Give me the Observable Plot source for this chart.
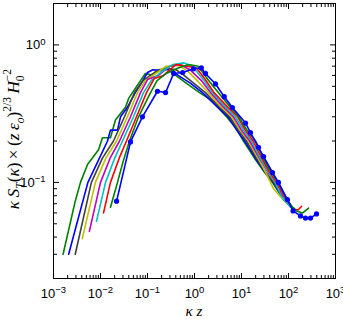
<!DOCTYPE html>
<html><head><meta charset="utf-8">
<script src="https://cdn.jsdelivr.net/npm/d3@7"></script>
<script src="https://cdn.jsdelivr.net/npm/@observablehq/plot@0.6"></script>
<style>html,body{margin:0;padding:0;background:#fff;overflow:hidden}</style>
</head><body><div id="chart"></div>
<script>
// Series values [kappa z, normalized spectrum]
const s1 = [[0.022,0.073],[0.0435,0.197],[0.078,0.30],[0.163,0.46],[0.242,0.45],[0.36,0.62],[0.56,0.63],[0.95,0.67],[1.4,0.68],[1.71,0.62],[2.8,0.52],[4.3,0.42],[6.4,0.35],[12.2,0.27],[15.5,0.23],[23,0.18],[29.5,0.154],[45.7,0.118],[61,0.10],[95,0.075],[125,0.062],[180,0.057],[230,0.055],[294,0.055],[394,0.059]];
const s2 = [[0.0163,0.066],[0.023,0.1],[0.03,0.14],[0.0414,0.2],[0.0644,0.3],[0.116,0.45],[0.16,0.55],[0.25,0.62],[0.45,0.68],[0.75,0.72],[1.2,0.7],[2.0,0.55],[3.2,0.45],[5.5,0.36],[8.8,0.3],[13,0.24],[20,0.2],[29,0.15],[42,0.12],[60,0.1],[93,0.075],[122,0.066],[148,0.062],[200,0.06],[267,0.065]];
const s3 = [[0.0116,0.06],[0.0163,0.1],[0.025,0.15],[0.0357,0.2],[0.0583,0.3],[0.0953,0.45],[0.14,0.57],[0.22,0.6],[0.4,0.72],[0.7,0.7],[1.1,0.68],[1.7,0.56],[2.6,0.45],[4.8,0.36],[8.3,0.3],[12,0.24],[17.7,0.2],[27,0.15],[39,0.12],[55.6,0.1],[91,0.075],[128,0.064],[160,0.063],[190,0.067]];
const s4 = [[0.0082,0.052],[0.0128,0.1],[0.02,0.15],[0.0294,0.2],[0.0503,0.3],[0.0822,0.45],[0.12,0.55],[0.2,0.64],[0.35,0.72],[0.6,0.74],[0.9,0.7],[1.6,0.55],[2.4,0.45],[4.3,0.36],[7.4,0.3],[11,0.24],[16.3,0.2],[25,0.15],[37,0.12],[52,0.1],[70,0.08],[90,0.072],[110,0.066],[130,0.065]];
const s5 = [[0.0058,0.044],[0.01,0.1],[0.016,0.15],[0.0254,0.2],[0.0435,0.3],[0.071,0.45],[0.1,0.56],[0.17,0.6],[0.3,0.7],[0.5,0.72],[0.8,0.66],[1.4,0.55],[2.19,0.45],[3.9,0.36],[6.76,0.3],[10,0.24],[15,0.2],[24,0.15],[36,0.12],[52,0.1],[80,0.077],[110,0.067]];
const s6 = [[0.0041,0.039],[0.0078,0.1],[0.013,0.15],[0.0219,0.2],[0.0375,0.3],[0.0612,0.45],[0.09,0.55],[0.16,0.63],[0.25,0.7],[0.45,0.71],[0.7,0.65],[1.2,0.54],[1.97,0.45],[3.5,0.36],[6.2,0.3],[9.3,0.24],[14.1,0.2],[22.5,0.15],[34,0.115],[48,0.09],[65,0.08],[85,0.073],[110,0.067]];
const s7 = [[0.0029,0.03],[0.0064,0.1],[0.011,0.15],[0.0189,0.2],[0.0324,0.3],[0.0528,0.45],[0.08,0.55],[0.15,0.64],[0.25,0.68],[0.4,0.66],[0.6,0.6],[1.0,0.52],[1.71,0.45],[3.2,0.36],[5.6,0.3],[8.6,0.24],[12.8,0.2],[20.8,0.15],[32,0.12],[48,0.1],[82,0.075],[110,0.067]];
const s8 = [[0.0021,0.03],[0.0037,0.062],[0.0054,0.1],[0.01,0.156],[0.0141,0.2],[0.0163,0.24],[0.023,0.24],[0.0267,0.3],[0.037,0.35],[0.055,0.45],[0.075,0.53],[0.1,0.63],[0.13,0.66],[0.2,0.65],[0.3,0.67],[0.45,0.6],[0.8,0.53],[1.48,0.45],[2.9,0.36],[5.2,0.3],[7.9,0.24],[11.7,0.2],[19.8,0.15],[31,0.12],[47,0.1],[80,0.075],[110,0.067]];
const s9 = [[0.0016,0.03],[0.0029,0.073],[0.00375,0.1],[0.0053,0.135],[0.0091,0.173],[0.011,0.211],[0.0163,0.211],[0.0208,0.284],[0.034,0.352],[0.04,0.41],[0.09,0.62],[0.13,0.6],[0.17,0.66],[0.25,0.67],[0.35,0.62],[0.7,0.52],[1.28,0.45],[2.2,0.4],[4.8,0.3],[7.5,0.25],[11,0.2],[18.9,0.15],[30,0.12],[45.7,0.1],[78,0.075],[110,0.067]];

const seriesNames = ["s1","s2","s3","s4","s5","s6","s7","s8","s9"];
const seriesData = [s1,s2,s3,s4,s5,s6,s7,s8,s9];
const seriesColors = ["#0000ff","#008000","#ff0000","#00bfbf","#bf00bf","#bfbf00","#404040","#0000ff","#008000"];

const xMajor = [0.001,0.01,0.1,1,10,100,1000];
const yMajor = [0.1,1];
const mantissas = [2,3,4,5,6,7,8,9];
const xMinor = [];
for (const d of [0.001,0.01,0.1,1,10,100]) for (const m of mantissas) xMinor.push(+(d*m).toPrecision(3));
const yMinor = [];
for (const d of [0.01,0.1]) for (const m of mantissas) if (d*m >= 0.02) yMinor.push(+(d*m).toPrecision(3));
yMinor.push(2);

const xTitle = "κ z";

// rows: draw from last series to first so the dotted blue one sits on top
const rows = [];
for (let k = seriesData.length - 1; k >= 0; k--) {
  for (const [x, y] of seriesData[k]) rows.push({s: seriesNames[k], color: seriesColors[k], x, y});
}
const dotRows = s1.map(([x, y]) => ({x, y}));

const expFmt = d => String(Math.round(Math.log10(d)));
const serif = "'Liberation Serif','DejaVu Serif',serif";

const plot = Plot.plot({
  width: 343, height: 323,
  marginLeft: 53, marginRight: 8, marginTop: 3, marginBottom: 45,
  x: {type: "log", domain: [1e-3, 1e3], label: null},
  y: {type: "log", domain: [0.02, 2], label: null},
  style: {fontFamily: "'Liberation Sans', Arial, sans-serif", fontSize: "13px", background: "white", color: "black"},
  marks: [
    Plot.line(rows, {x: "x", y: "y", z: "s", stroke: "color", strokeWidth: 1.6, curve: "linear"}),
    Plot.dot(dotRows, {x: "x", y: "y", r: 2.6, fill: "#0000ff", stroke: "none"}),
    Plot.frame({stroke: "black", strokeWidth: 1}),
    // inward ticks on all four sides
    Plot.axisX(xMajor, {anchor: "bottom", tickSize: -5, fill: "none", label: null}),
    Plot.axisX(xMinor, {anchor: "bottom", tickSize: -3, fill: "none", label: null}),
    Plot.axisX(xMajor, {anchor: "top", tickSize: -5, fill: "none", label: null}),
    Plot.axisX(xMinor, {anchor: "top", tickSize: -3, fill: "none", label: null}),
    Plot.axisY(yMajor, {anchor: "left", tickSize: -6, fill: "none", label: null}),
    Plot.axisY(yMinor, {anchor: "left", tickSize: -4, fill: "none", label: null}),
    Plot.axisY(yMajor, {anchor: "right", tickSize: -6, fill: "none", label: null}),
    Plot.axisY(yMinor, {anchor: "right", tickSize: -4, fill: "none", label: null}),
    // tick labels
    Plot.axisX(xMajor, {anchor: "bottom", tickSize: 0, tickPadding: 10, tickFormat: expFmt, label: null}),
    Plot.axisY(yMajor, {anchor: "left", tickSize: 0, tickPadding: 8, tickFormat: expFmt, label: null})
  ]
});

document.getElementById("chart").appendChild(plot);
const svg = d3.select(plot);

// turn exponent labels into 10 with superscript
svg.selectAll("g[aria-label$='tick label'] text").each(function() {
  const e = this.textContent.trim().replace("-", "\u2212");
  const t = d3.select(this);
  t.text("10");
  t.append("tspan").attr("dy", "-0.45em").attr("font-size", "9.5px").text(e);
});

// x title, centred on the frame using the x scale
const sx = plot.scale("x");
const xMid = (sx.apply(1e-3) + sx.apply(1e3)) / 2;
svg.append("text")
  .attr("x", xMid).attr("y", 316)
  .attr("text-anchor", "middle")
  .attr("font-family", serif).attr("font-style", "italic").attr("font-size", 15)
  .attr("fill", "black")
  .text(xTitle);

// y title
const yt = svg.append("text")
  .attr("text-anchor", "middle")
  .attr("font-family", serif)
  .attr("font-size", 15)
  .attr("fill", "black");
const parts = [
  ["κ\u2009", "italic", 0, null, 0],
  ["S", "italic", 0, null, 0],
  ["T", "italic", 4, 10, 0],
  ["(", "normal", -4, null, 0],
  ["κ", "italic", 0, null, 0],
  [")\u2009×\u2009(", "normal", 0, null, 0],
  ["z\u2009ε", "italic", 0, null, 0],
  ["o", "italic", 4, 10, 0],
  [")", "normal", -4, null, 0],
  ["2/3", "normal", -7, 10, 0],
  ["\u2009H", "italic", 7, null, 0],
  ["0", "normal", 4, 10, 0],
  ["−2", "normal", -11, 10, -5]
];
for (const [txt, style, dy, size, dx] of parts) {
  const sp = yt.append("tspan").attr("font-style", style).attr("dy", dy).text(txt);
  if (size) sp.attr("font-size", size);
  if (dx) sp.attr("dx", dx);
}
const L = yt.node().getBBox().width;
const k = Math.min(1.15, 167 / L);
yt.attr("transform", `translate(19,139) rotate(-90) scale(${k})`);
</script>
</body></html>
